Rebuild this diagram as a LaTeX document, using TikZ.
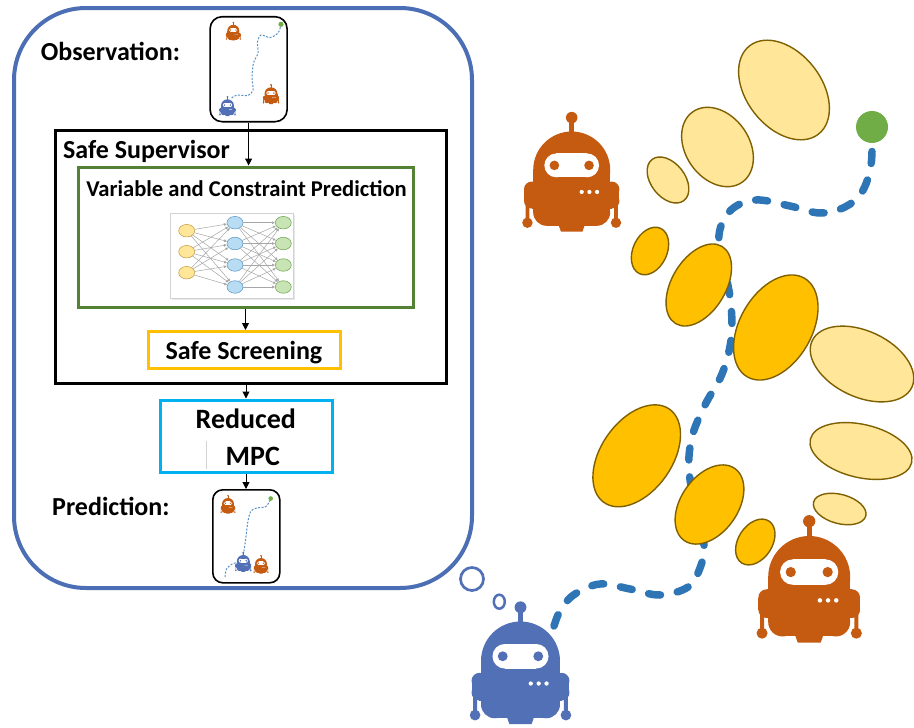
\documentclass[tikz,border=0pt]{standalone}
\usepackage{fontspec}
\setmainfont{Carlito}
\usetikzlibrary{arrows.meta,shapes.geometric}

\definecolor{framecol}{RGB}{76,110,180}
\definecolor{robotorange}{RGB}{197,90,17}
\definecolor{robotblue}{RGB}{82,112,182}
\definecolor{pathblue}{RGB}{46,117,182}
\definecolor{dotgreen}{RGB}{112,173,71}
\definecolor{boxgreen}{RGB}{84,130,53}
\definecolor{boxgold}{RGB}{255,192,0}
\definecolor{boxcyan}{RGB}{0,176,240}
\definecolor{obsfill}{RGB}{255,230,153}
\definecolor{obsdark}{RGB}{255,192,0}
\definecolor{obsline}{RGB}{127,96,0}
\definecolor{nnyellow}{RGB}{255,230,153}
\definecolor{nnyellowd}{RGB}{200,165,80}
\definecolor{nnblue}{RGB}{184,220,242}
\definecolor{nnblued}{RGB}{100,160,200}
\definecolor{nngreen}{RGB}{200,228,180}
\definecolor{nngreend}{RGB}{120,170,90}

% A robot: centre x, dome centre y, head radius, colour
\newcommand{\drawrobot}[4]{%
\begin{scope}[shift={(#1,#2)}, scale=#3]
  \fill[#4] (0,-1.36) circle (0.15);
  \fill[#4] (-0.06,-1.3) rectangle (0.06,-0.9);
  \fill[#4] (0,0) circle (1);
  \fill[#4] (-1,0) rectangle (1,1.1);
  \fill[#4] (-0.65,1.1) rectangle (0.65,1.45);
  \fill[#4] (-0.65,1.1) circle (0.35) (0.65,1.1) circle (0.35);
  % shoulders
  \fill[#4] (-1.24,0.5) rectangle (1.24,0.8);
  \fill[#4] (-1.04,0.3) rectangle (1.04,1.0);
  \fill[#4] (-1.04,0.5) circle (0.2) (1.04,0.5) circle (0.2)
            (-1.04,0.8) circle (0.2) (1.04,0.8) circle (0.2);
  % arms
  \fill[#4] (-1.2,0.9) rectangle (-1.1,1.3) (1.1,0.9) rectangle (1.2,1.3);
  \fill[#4] (-1.15,1.37) circle (0.135) (1.15,1.37) circle (0.135);
  % base
  \fill[#4] (-0.35,1.4) -- (0.35,1.4) -- (0.28,1.6) -- (-0.28,1.6) -- cycle;
  % face
  \fill[white] (-0.4,-0.43) rectangle (0.4,0.19);
  \fill[white] (-0.4,-0.12) circle (0.31) (0.4,-0.12) circle (0.31);
  \fill[#4] (-0.45,-0.12) circle (0.125) (0.45,-0.12) circle (0.125);
  \fill[white] (0.26,0.57) circle (0.055) (0.46,0.57) circle (0.055) (0.66,0.57) circle (0.055);
\end{scope}}

\tikzset{
  lbl/.style={font=\fontsize{26}{30}\selectfont\bfseries, inner sep=0pt},
  smalllbl/.style={font=\fontsize{22.6}{26}\selectfont\bfseries, inner sep=0pt},
  mpclbl/.style={font=\fontsize{28}{30}\selectfont\bfseries, inner sep=0pt},
  thumb/.style={draw=black, line width=1.6pt, rounded corners=12pt, inner sep=0pt},
  flowbox/.style={line width=3pt, inner sep=0pt},
  flowarrow/.style={line width=1pt, -{Triangle[length=7pt,width=7pt]}},
  nnnode/.style={ellipse, minimum width=16pt, minimum height=12.5pt, inner sep=0pt, line width=0.6pt},
  nnin/.style={nnnode, fill=nnyellow, draw=nnyellowd},
  nnhid/.style={nnnode, fill=nnblue, draw=nnblued},
  nnout/.style={nnnode, fill=nngreen, draw=nngreend},
  nnedge/.style={draw=gray!70, line width=0.5pt, -{Latex[length=3pt,width=3pt]}},
  ellL/.style={fill=obsfill, draw=obsline, line width=1.4pt},
  ellD/.style={fill=obsdark, draw=obsline, line width=1.4pt},
  bigpath/.style={pathblue, line width=7.5pt, line cap=round, dash pattern=on 12pt off 17pt},
  minipath/.style={pathblue!80, line width=1pt, dash pattern=on 2pt off 1.5pt},
}

\begin{document}
\begin{tikzpicture}[x=1pt,y=-1pt]
\useasboundingbox (0,0) rectangle (914,728);
\fill[white] (0,0) rectangle (914,728);

% ---------------- pipeline panel ----------------
\draw[framecol, line width=4pt, rounded corners=72pt] (14,8) rectangle (472,588);

\node[lbl, anchor=base west] (obslbl) at (40.7,60) {Observation:};
\node[lbl, anchor=base west] (predlbl) at (52,515) {Prediction:};

% observation thumbnail
\node[thumb, minimum width=77pt, minimum height=105pt] (obs) at (248.6,69.2) {};
\draw[minipath] plot[smooth] coordinates {(231.7,98) (237,95) (248,95.5) (253,90) (252,77) (253.5,63) (258,53) (257.5,42) (261,35) (270,37.5) (278,33) (281,25)};
\fill[dotgreen] (281,24.3) circle (2.6);
\drawrobot{233.3}{30.8}{6}{robotorange}
\drawrobot{271}{93.8}{6.5}{robotorange}
\drawrobot{227.5}{105.8}{6.5}{robotblue}

% safe supervisor
\node[flowbox, draw=black, minimum width=391pt, minimum height=253pt] (sup) at (250.5,256.5) {};
\node[lbl, anchor=base west] (suplbl) at (63,158) {Safe Supervisor};

\node[flowbox, draw=boxgreen, minimum width=335pt, minimum height=140pt] (pred) at (245.5,237) {};
\node[smalllbl, anchor=base] (predtxt) at (246.5,196.5) {Variable and Constraint Prediction};

% network sketch
\fill[gray!18] (171.5,214.8) rectangle (295,300);
\node[draw=gray!35, fill=white, line width=0.5pt, minimum width=123pt, minimum height=85pt, inner sep=0pt] (nnbox) at (231.7,255.8) {};
\foreach \i/\y in {1/230.7,2/251.7,3/272.7} \node[nnin] (a\i) at (186.7,\y) {};
\foreach \i/\y in {1/222.7,2/243.5,3/265,4/287} \node[nnhid] (b\i) at (235,\y) {};
\foreach \i/\y in {1/222.7,2/243.5,3/265,4/287} \node[nnout] (c\i) at (283.3,\y) {};
\foreach \i in {1,2,3} \foreach \j in {1,...,4} \draw[nnedge] (a\i) -- (b\j);
\foreach \i in {1,...,4} \foreach \j in {1,...,4} \draw[nnedge] (b\i) -- (c\j);

\node[flowbox, draw=boxgold, minimum width=192pt, minimum height=37pt] (screen) at (244,350) {};
\node[lbl, anchor=base] (screentxt) at (244,359) {Safe Screening};

\node[flowbox, draw=boxcyan, minimum width=172pt, minimum height=72pt] (mpc) at (246,436) {};
\draw[gray!35, line width=0.6pt] (206,441) -- (206,469);
\node[mpclbl, anchor=base] (mpc1) at (245.8,428.3) {Reduced};
\node[mpclbl, anchor=base] (mpc2) at (252.8,465) {MPC};

% prediction thumbnail
\node[thumb, minimum width=67pt, minimum height=93pt, rounded corners=10pt] (predthumb) at (246.3,536.3) {};
\draw[minipath] plot[smooth] coordinates {(225,577) (226.5,569) (233,563.5) (240,561.5) (243.5,553) (245.5,540) (248,521) (251,511) (257,508) (266,506.5) (270.7,499)};
\fill[dotgreen] (270.7,498.5) circle (2.3);
\drawrobot{228}{504}{6}{robotorange}
\drawrobot{243.3}{561.5}{6.5}{robotblue}
\drawrobot{261}{564}{6}{robotorange}

% flow arrows
\draw[flowarrow] (obs.south) -- (obs.south |- pred.north);
\draw[flowarrow] (pred.south) -- (pred.south |- screen.north);
\draw[flowarrow] (mpc.north |- sup.south) -- (mpc.north);
\draw[flowarrow] (mpc.south) -- (mpc.south |- predthumb.north);

% ---------------- scene ----------------
\draw[bigpath] plot[smooth, tension=0.6] coordinates {(554,626) (561,609) (575,594) (600,584) (630,589) (660,595) (688,587) (700,568) (704,545) (696,510) (689,470) (692,437) (705,405) (722,374) (731,340) (731,305) (725,270) (719,235) (731,210) (756,200) (790,206) (820,213) (845,207) (862,192) (871,165) (872,132)};

\draw[ellL, rotate around={-52:(784,90)}] (784,90) ellipse [x radius=56, y radius=37.5];
\draw[ellL, rotate around={-55:(717.5,147)}] (717.5,147) ellipse [x radius=43, y radius=31.8];
\draw[ellL, rotate around={-52:(668,180)}] (668,180) ellipse [x radius=26, y radius=17];
\draw[ellD, rotate around={65:(650,251)}] (650,251) ellipse [x radius=25, y radius=17];
\draw[ellD, rotate around={59:(698.8,285)}] (698.8,285) ellipse [x radius=45, y radius=27];
\draw[ellD, rotate around={60:(775.8,327.5)}] (775.8,327.5) ellipse [x radius=57, y radius=36];
\draw[ellL, rotate around={-25:(862,364)}] (862,364) ellipse [x radius=55, y radius=33];
\draw[ellD, rotate around={55:(636.7,455.8)}] (636.7,455.8) ellipse [x radius=57, y radius=35.6];
\draw[ellD, rotate around={55:(709.5,504.5)}] (709.5,504.5) ellipse [x radius=44, y radius=28.5];
\draw[ellD, rotate around={57:(755.3,542)}] (755.3,542) ellipse [x radius=25, y radius=17];
\draw[ellL, rotate around={-13:(861,451)}] (861,451) ellipse [x radius=52, y radius=26.6];
\draw[ellL, rotate around={-15:(839.7,509)}] (839.7,509) ellipse [x radius=27, y radius=14.6];

\fill[dotgreen] (872,127) circle (16);

\drawrobot{571.7}{170}{38.5}{robotorange}
\drawrobot{809.2}{577}{41}{robotorange}
\drawrobot{520.5}{661}{39.5}{robotblue}

% thought bubbles
\draw[robotblue, line width=2.7pt] (472,579) circle (11.5);
\draw[robotblue, line width=2.5pt] (499.3,601.7) ellipse [x radius=5.5, y radius=7];
\end{tikzpicture}
\end{document}
